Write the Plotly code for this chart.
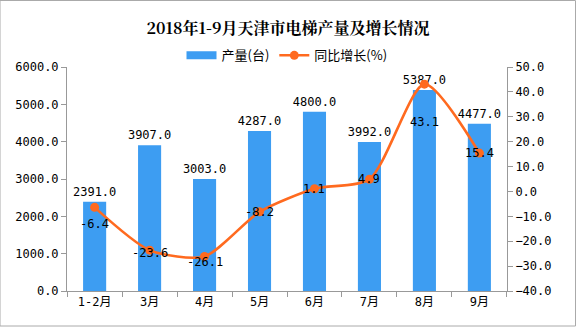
import plotly.graph_objects as go

categories = ["1-2月", "3月", "4月", "5月", "6月", "7月", "8月", "9月"]
output_units = [2391.0, 3907.0, 3003.0, 4287.0, 4800.0, 3992.0, 5387.0, 4477.0]
growth_pct = [-6.4, -23.6, -26.1, -8.2, 1.1, 4.9, 43.1, 15.4]
# pixel offsets (downwards) of the growth labels relative to their points
growth_label_shift = [17, 3, 6, 0, 0, 0, 38, 0]

BLUE = "#3D9DF2"
ORANGE = "#FF6A1F"
FONT = "DejaVu Sans Mono, Noto Sans CJK SC"

fig = go.Figure()
fig.add_trace(go.Bar(
    x=categories, y=output_units, name="产量(台)", showlegend=False,
    marker=dict(color=BLUE, line=dict(width=0)),
    width=0.42,
    text=[f"{v:.1f}" for v in output_units], textposition="outside",
    constraintext="none",
    textfont=dict(size=12, color="#000000", family=FONT),
    cliponaxis=False,
))
# legend proxy for the bars (wide rectangle swatch)
fig.add_trace(go.Scatter(
    x=[None], y=[None], name="产量(台)", mode="lines",
    line=dict(color=BLUE, width=8),
))
fig.add_trace(go.Scatter(
    x=categories, y=growth_pct, name="同比增长(%)", yaxis="y2",
    mode="lines+markers",
    line=dict(color=ORANGE, width=2.6, shape="spline", smoothing=0.7),
    marker=dict(color=ORANGE, size=9),
    cliponaxis=False,
))

annotations = []
for c, v, s in zip(categories, growth_pct, growth_label_shift):
    annotations.append(dict(
        x=c, y=v, xref="x", yref="y2", text=f"{v:.1f}", showarrow=False,
        yshift=-s, font=dict(size=12, color="#000000", family=FONT),
    ))

fig.update_layout(
    width=576, height=327,
    margin=dict(l=67, r=69, t=67, b=36),
    paper_bgcolor="white", plot_bgcolor="white",
    font=dict(family=FONT, size=12, color="#000000"),
    title=dict(text="<b>2018年1-9月天津市电梯产量及增长情况</b>", x=0.5, xanchor="center",
               y=0.912, yanchor="middle", font=dict(size=16, family="Noto Serif CJK SC, Noto Sans CJK SC", color="#000")),
    showlegend=True,
    legend=dict(orientation="h", x=0.5, xanchor="center", y=0.985, yanchor="bottom",
                font=dict(size=13, family="Noto Sans CJK SC"), bgcolor="rgba(0,0,0,0)"),
    annotations=annotations,
    xaxis=dict(showline=True, linecolor="#999999", linewidth=1, ticks="outside", tickson="boundaries",
               ticklen=5, tickcolor="#999999", showgrid=False, tickfont=dict(size=12)),
    yaxis=dict(range=[0, 6000], dtick=1000, tickformat=".1f", showline=True, linecolor="#999999",
               ticks="outside", ticklen=5, tickcolor="#999999", showgrid=False, zeroline=False,
               tickfont=dict(size=12)),
    yaxis2=dict(range=[-40, 50], dtick=10, tickformat=".1f", overlaying="y", side="right",
                showline=True, linecolor="#999999", ticks="outside", ticklen=5, tickcolor="#999999",
                showgrid=False, zeroline=False, tickfont=dict(size=12)),
    shapes=[dict(type="rect", xref="paper", yref="paper", x0=-67/440, x1=1+68.5/440,
                 y0=-35/224, y1=1+66.5/224, line=dict(color="#AAAAAA", width=1))],
)

fig.write_html("out.html")
